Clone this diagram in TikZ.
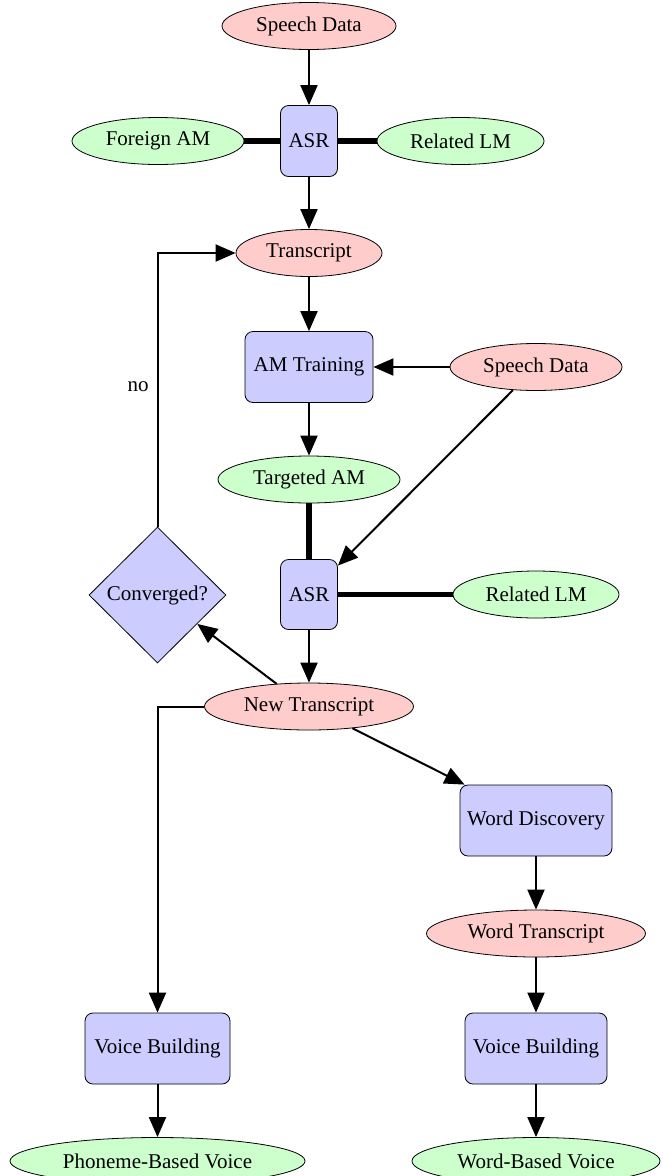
\documentclass[tikz,border=0pt]{standalone}
\usepackage{fontspec}
\setmainfont{Liberation Serif}
\usetikzlibrary{shapes.geometric,arrows.meta}
\definecolor{pinkf}{HTML}{FFCCCC}
\definecolor{greenf}{HTML}{CCFFCC}
\definecolor{bluef}{HTML}{CCCCFF}
\begin{document}
\begin{tikzpicture}[x=1pt,y=-1pt,
  every node/.style={font=\fontsize{21}{25}\selectfont, inner sep=0pt},
  ell/.style={ellipse, draw, line width=0.8pt, minimum height=47pt},
  pinkell/.style={ell, fill=pinkf},
  greenell/.style={ell, fill=greenf},
  proc/.style={draw, line width=0.8pt, rounded corners=8pt, fill=bluef, minimum height=71pt},
  dec/.style={diamond, aspect=1, draw, line width=0.8pt, fill=bluef, minimum width=137pt, minimum height=136pt},
  arr/.style={line width=2pt, -{Triangle[length=20pt,width=17pt]}},
  thick line/.style={line width=5.5pt}
]
\useasboundingbox (0,0) rectangle (663,1176);

\node[pinkell, minimum width=174pt] (sd1) at (309,26) {Speech Data};
\node[proc, minimum width=57pt] (asr1) at (309,141) {ASR};
\node[greenell, minimum width=172pt] (fam) at (158,141) {Foreign AM};
\node[greenell, minimum width=167pt] (rlm1) at (460.5,141) {Related LM};
\node[pinkell, minimum width=146pt] (tr) at (309,253) {Transcript};
\node[proc, minimum width=128pt] (amt) at (309,367) {AM Training};
\node[pinkell, minimum width=172pt] (sd2) at (536,367) {Speech Data};
\node[greenell, minimum width=182pt] (tam) at (309,479.5) {Targeted AM};
\node[proc, minimum width=57pt, minimum height=70pt] (asr2) at (309,594.5) {ASR};
\node[greenell, minimum width=166pt] (rlm2) at (536,594.5) {Related LM};
\node[dec] (conv) at (157.5,595) {Converged?};
\node[pinkell, minimum width=209pt] (nt) at (309,706.5) {New Transcript};
\node[proc, minimum width=152pt] (wd) at (536,820.5) {Word Discovery};
\node[pinkell, minimum width=219pt] (wt) at (536,933.5) {Word Transcript};
\node[proc, minimum width=145pt] (vbl) at (157.5,1048.5) {Voice Building};
\node[proc, minimum width=142pt] (vbr) at (536,1048.5) {Voice Building};
\node[greenell, minimum width=295pt] (pbv) at (157.5,1161) {Phoneme-Based Voice};
\node[greenell, minimum width=248pt] (wbv) at (536,1161) {Word-Based Voice};
\node (no) at (138,387) {no};

\draw[arr] (sd1) -- (asr1);
\draw[thick line] (fam) -- (asr1);
\draw[thick line] (asr1) -- (rlm1);
\draw[arr] (asr1) -- (tr);
\draw[arr] (tr) -- (amt);
\draw[arr] (sd2) -- (amt);
\draw[arr] (amt) -- (tam);
\draw[thick line] (tam) -- (asr2);
\draw[arr] (sd2) -- (asr2);
\draw[thick line] (asr2) -- (rlm2);
\draw[arr] (asr2) -- (nt);
\draw[arr] (nt.145) -- (conv.-36);
\draw[arr] (conv.north) |- (tr.west);
\draw[arr] (nt.west) -| (vbl.north);
\draw[arr] (nt) -- (wd);
\draw[arr] (wd) -- (wt);
\draw[arr] (wt) -- (vbr);
\draw[arr] (vbr) -- (wbv);
\draw[arr] (vbl) -- (pbv);
\end{tikzpicture}
\end{document}
